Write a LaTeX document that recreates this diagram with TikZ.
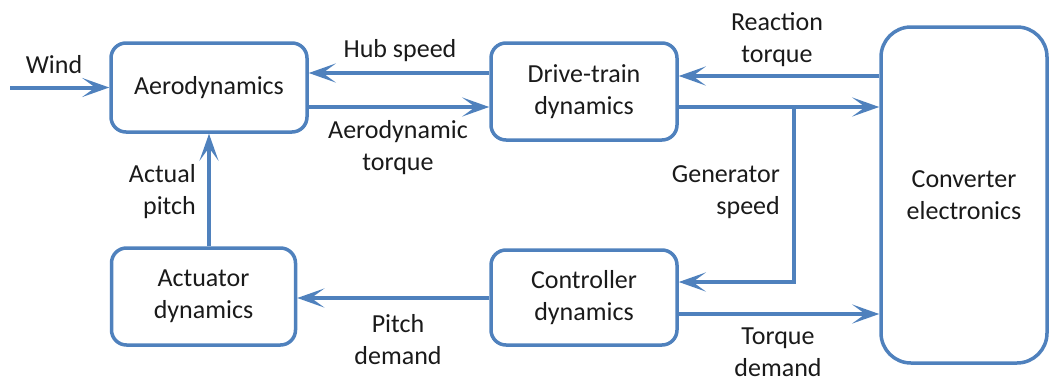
\documentclass[tikz,border=0pt]{standalone}
\usepackage{fontspec}
\setmainfont{Carlito}
\usetikzlibrary{arrows.meta}
\definecolor{officeBlue}{HTML}{4F81BD}
\definecolor{textGrey}{HTML}{1A1A1A}

\begin{document}
\begin{tikzpicture}[%%
  x=1pt,y=-1pt,%%
  font=\fontsize{26}{32}\selectfont,text=textGrey,%%
  boxStyle/.style={draw=officeBlue,line width=3.5pt,rounded corners=15pt,%%
    align=center,inner sep=0pt},%%
  flowStyle/.style={draw=officeBlue,line width=4pt,%%
    -{Stealth[length=27pt,width=19pt,inset=13pt]}},%%
  labelStyle/.style={align=center,inner sep=0pt}
]
%%
\useasboundingbox (0,0) rectangle (1049,383);
%%
%% The blocks.
\node[boxStyle,minimum width=196pt,minimum height=89pt]
  (aero) at (209,87.5) {\raisebox{-2pt}{Aerodynamics}};
\node[boxStyle,minimum width=186pt,minimum height=97pt]
  (drive) at (584,91.5) {Drive-train\\dynamics};
\node[boxStyle,minimum width=184pt,minimum height=97pt]
  (actuator) at (203.5,296.5) {Actuator\\dynamics};
\node[boxStyle,minimum width=186pt,minimum height=95pt]
  (control) at (584,297.5) {Controller\\dynamics};
\node[boxStyle,minimum width=166pt,minimum height=336pt,rounded corners=30pt]
  (conv) at (964,195) {Converter\\electronics};
%%
%% Free end of the wind input and the branch point.
\coordinate (windIn) at (10,87.5);
\coordinate (branch) at (794,107);
%%
%% The signals.
\draw[flowStyle] (windIn) -- (aero.west);
\draw[flowStyle] ([yshift=18.5pt]drive.west) -- ([yshift=18.5pt]drive.west -| aero.east);
\draw[flowStyle] ([yshift=-15.5pt]drive.west -| aero.east) -- ([yshift=-15.5pt]drive.west);
\draw[flowStyle] ([yshift=15.5pt]drive.east -| conv.west) -- ([yshift=15.5pt]drive.east);
\draw[flowStyle] ([yshift=-15.5pt]drive.east) -- ([yshift=-15.5pt]drive.east -| conv.west);
\draw[flowStyle] (branch) |- ([yshift=15.5pt]control.east);
\draw[flowStyle] ([yshift=-16.5pt]control.east) -- ([yshift=-16.5pt]control.east -| conv.west);
\draw[flowStyle] ([yshift=-0.5pt]control.west) -- ([yshift=-0.5pt]control.west -| actuator.east);
\draw[flowStyle] (aero.south |- actuator.north) -- (aero.south);
%%
%% The labels.
\node[labelStyle] (windLabel) at (54,65) {Wind};
\node[labelStyle] (hubLabel) at (400,51) {Hub speed};
\node[labelStyle] (torqueLabel) at (398,148) {Aerodynamic\\torque};
\node[labelStyle] (reactLabel) at (777,40) {Reaction\\torque};
\node[labelStyle,align=right,anchor=east] (genLabel) at (780,192) {Generator\\speed};
\node[labelStyle,align=right,anchor=east] (pitchLabel) at (196,192) {Actual\\pitch};
\node[labelStyle] (pdemLabel) at (398,340) {Pitch\\demand};
\node[labelStyle] (tdemLabel) at (778,352) {Torque\\demand};
\end{tikzpicture}
\end{document}
